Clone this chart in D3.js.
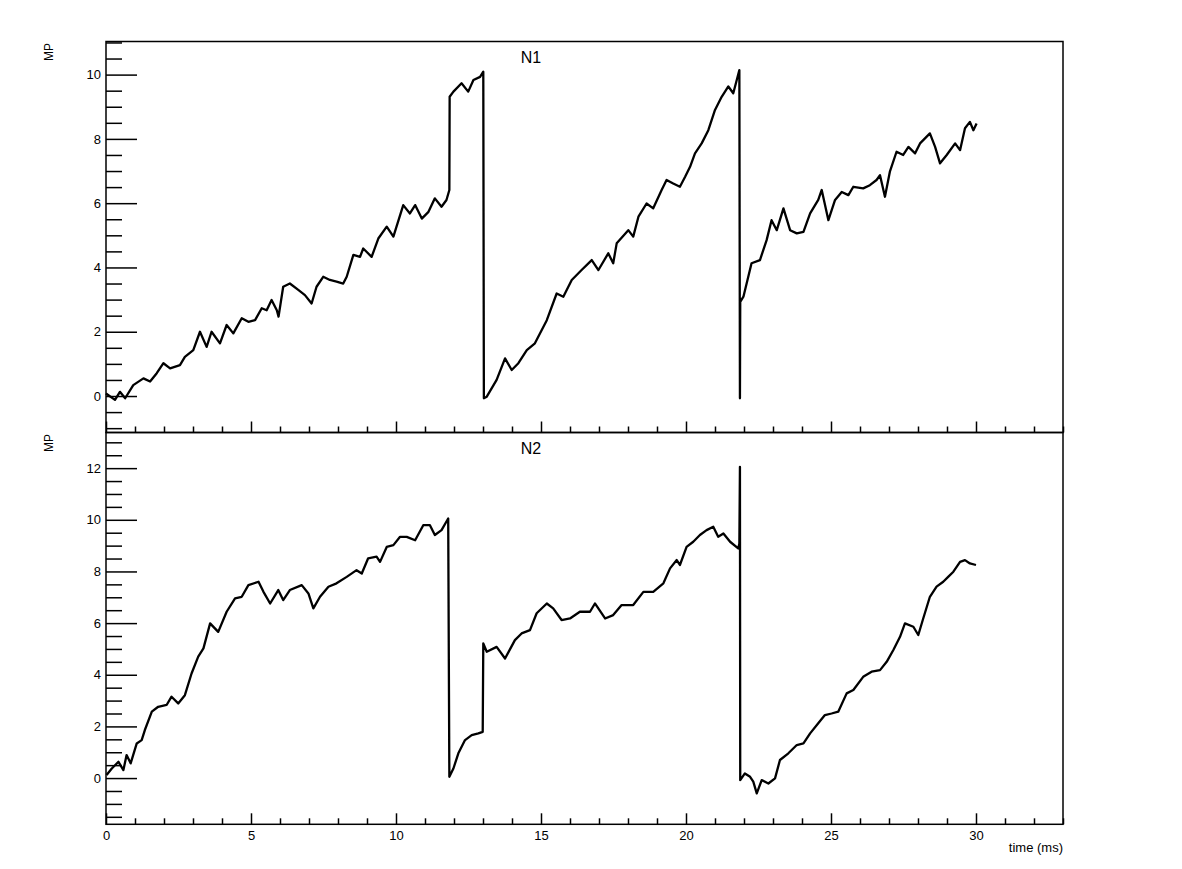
<!DOCTYPE html>
<html>
<head>
<meta charset="utf-8">
<script src="https://cdn.jsdelivr.net/npm/d3@7"></script>
<style>
  body { margin: 0; background: #fff; }
  svg text { font-family: "Liberation Sans", Arial, Helvetica, sans-serif; fill: #000; }
</style>
</head>
<body>
<div id="chart"></div>
<script>
// N1 trace, time in ms and membrane potential
const n1Time = [0, 0.31, 0.48, 0.66, 0.94, 1.29, 1.52, 1.75, 1.98, 2.21, 2.55, 2.72, 3.01, 3.24, 3.47, 3.64, 3.93,
  4.16, 4.39, 4.68, 4.91, 5.14, 5.37, 5.54, 5.71, 5.89, 5.95, 6.11, 6.34, 6.63, 6.86, 7.09, 7.26, 7.49, 7.72, 7.95,
  8.18, 8.3, 8.53, 8.76, 8.87, 9.16, 9.39, 9.68, 9.91, 10.25, 10.48, 10.66, 10.89, 11.12, 11.34, 11.57, 11.74, 11.84,
  11.85, 11.98, 12.26, 12.49, 12.67, 12.90, 13.01, 13.03, 13.13, 13.47, 13.76, 13.99, 14.22, 14.51, 14.79, 15.20,
  15.54, 15.77, 16.06, 16.40, 16.75, 16.98, 17.32, 17.49, 17.61, 18.01, 18.18, 18.36, 18.64, 18.87, 19.16, 19.33,
  19.56, 19.79, 19.97, 20.14, 20.31, 20.54, 20.77, 21.0, 21.23, 21.46, 21.63, 21.75, 21.84, 21.86, 21.87, 21.98,
  22.26, 22.55, 22.78, 22.95, 23.13, 23.36, 23.59, 23.82, 24.05, 24.28, 24.56, 24.68, 24.91, 25.14, 25.37, 25.60,
  25.77, 26.11, 26.34, 26.57, 26.69, 26.86, 27.03, 27.26, 27.49, 27.67, 27.90, 28.07, 28.41, 28.59, 28.76, 28.99,
  29.28, 29.45, 29.62, 29.79, 29.91, 30.02];
const n1Mp = [0.08, -0.12, 0.13, -0.07, 0.34, 0.55, 0.45, 0.71, 1.02, 0.86, 0.96, 1.22, 1.43, 2.0, 1.53, 2.0, 1.64,
  2.21, 1.95, 2.42, 2.31, 2.36, 2.73, 2.67, 2.99, 2.67, 2.47, 3.40, 3.50, 3.30, 3.14, 2.88, 3.40, 3.71, 3.61, 3.56,
  3.50, 3.71, 4.39, 4.33, 4.59, 4.33, 4.90, 5.27, 4.96, 5.94, 5.68, 5.94, 5.52, 5.73, 6.15, 5.89, 6.10, 6.41,
  9.31, 9.47, 9.73, 9.47, 9.83, 9.93, 10.09, -0.07, -0.02, 0.50, 1.17, 0.81, 1.02, 1.43, 1.64, 2.36,
  3.19, 3.09, 3.61, 3.92, 4.23, 3.92, 4.44, 4.13, 4.75, 5.16, 4.96, 5.58, 5.99, 5.84, 6.41, 6.72,
  6.61, 6.51, 6.82, 7.13, 7.55, 7.86, 8.27, 8.90, 9.31, 9.63, 9.42, 9.83, 10.14, -0.07, 2.93, 3.09,
  4.13, 4.23, 4.85, 5.47, 5.16, 5.84, 5.16, 5.06, 5.11, 5.68, 6.10, 6.41, 5.47, 6.10, 6.35, 6.25,
  6.51, 6.46, 6.56, 6.72, 6.87, 6.20, 6.98, 7.60, 7.50, 7.75, 7.55, 7.86, 8.17, 7.75, 7.24, 7.50,
  7.86, 7.65, 8.33, 8.53, 8.27, 8.48];

// N2 trace
const n2Time = [0.02, 0.2, 0.43, 0.6, 0.71, 0.85, 1.06, 1.23, 1.34, 1.58, 1.80, 2.09, 2.26, 2.49, 2.72, 2.95, 3.18,
  3.36, 3.59, 3.87, 4.16, 4.45, 4.68, 4.91, 5.26, 5.43, 5.66, 5.94, 6.11, 6.34, 6.75, 6.98, 7.15, 7.38, 7.67, 7.95,
  8.30, 8.64, 8.82, 9.04, 9.33, 9.45, 9.68, 9.91, 10.14, 10.37, 10.66, 10.94, 11.17, 11.34, 11.57, 11.80, 11.84,
  11.98, 12.15, 12.38, 12.61, 12.84, 12.99, 13.01, 13.13, 13.47, 13.76, 14.10, 14.33, 14.62, 14.85, 15.20, 15.42,
  15.71, 16.0, 16.34, 16.69, 16.86, 17.21, 17.49, 17.78, 18.18, 18.53, 18.87, 19.22, 19.45, 19.68, 19.79, 20.02,
  20.25, 20.48, 20.71, 20.94, 21.11, 21.29, 21.52, 21.80, 21.84, 21.86, 21.87, 22.03, 22.21, 22.32, 22.44, 22.61,
  22.84, 23.07, 23.24, 23.53, 23.82, 24.05, 24.28, 24.56, 24.79, 25.02, 25.25, 25.54, 25.77, 26.11, 26.40, 26.69,
  26.92, 27.15, 27.38, 27.55, 27.84, 28.01, 28.18, 28.41, 28.64, 28.87, 29.04, 29.22, 29.45, 29.62, 29.79, 30.0];
const n2Mp = [0.12, 0.37, 0.63, 0.31, 0.89, 0.57, 1.34, 1.47, 1.86, 2.57, 2.76, 2.83, 3.15, 2.89, 3.21, 4.05, 4.70,
  5.02, 5.99, 5.66, 6.44, 6.96, 7.02, 7.47, 7.60, 7.21, 6.76, 7.28, 6.89, 7.28, 7.47, 7.15, 6.57, 7.02, 7.41, 7.54,
  7.79, 8.05, 7.92, 8.51, 8.57, 8.37, 8.95, 9.02, 9.34, 9.34, 9.21, 9.79, 9.79, 9.41, 9.60, 10.05, 0.05,
  0.37, 0.96, 1.47, 1.66, 1.73, 1.79, 5.21, 4.89, 5.08, 4.63, 5.34, 5.60, 5.73, 6.38, 6.76, 6.57,
  6.12, 6.18, 6.44, 6.44, 6.76, 6.18, 6.31, 6.70, 6.70, 7.21, 7.21, 7.54, 8.12, 8.44, 8.25, 8.95,
  9.15, 9.41, 9.60, 9.73, 9.34, 9.47, 9.15, 8.89, 9.08, 12.05, -0.08, 0.18, 0.05, -0.14, -0.59, -0.08,
  -0.21, -0.01, 0.70, 0.96, 1.28, 1.34, 1.73, 2.12, 2.44, 2.50, 2.57, 3.28, 3.41, 3.92, 4.12, 4.18,
  4.50, 4.96, 5.47, 5.99, 5.86, 5.54, 6.18, 7.02, 7.41, 7.60, 7.79, 7.99, 8.37, 8.44, 8.31, 8.25];

const xMajorTicks = [0, 5, 10, 15, 20, 25, 30];
const panelTitles = ['N1', 'N2'];
const yLabel = 'MP';
const xLabel = 'time (ms)';

const width = 1182, height = 869;
const frameLeft = 106, frameRight = 1063;

const svg = d3.select('#chart').append('svg')
  .attr('width', width)
  .attr('height', height);

const x = d3.scaleLinear().domain([0, 33]).range([frameLeft, frameRight]);

const panels = [
  { time: n1Time, mp: n1Mp, top: 41.5, bottom: 432.5, yDomain: [-1.135, 11.03], title: panelTitles[0], labels: false },
  { time: n2Time, mp: n2Mp, top: 432.5, bottom: 824.3, yDomain: [-1.79, 13.38], title: panelTitles[1], labels: true }
];

function drawPanel(p) {
  const y = d3.scaleLinear().domain(p.yDomain).range([p.bottom, p.top]);
  const g = svg.append('g');

  // minor y ticks every 0.5, major every 2
  const yMinor = d3.range(Math.ceil(p.yDomain[0] * 2) / 2, p.yDomain[1], 0.5).filter(v => v % 2 !== 0);
  const yMajor = d3.range(Math.ceil(p.yDomain[0] / 2) * 2, p.yDomain[1], 2);

  g.append('g')
    .attr('transform', `translate(${frameLeft},0)`)
    .call(d3.axisLeft(y).tickValues(yMinor).tickSize(-16).tickFormat(''))
    .call(a => a.select('.domain').remove());
  g.append('g')
    .attr('class', 'y-major')
    .attr('transform', `translate(${frameLeft},0)`)
    .call(d3.axisLeft(y).tickValues(yMajor).tickSize(-31).tickPadding(5).tickFormat(d3.format('d')))
    .call(a => a.select('.domain').remove());

  // x ticks
  const xMinor = d3.range(0, 34, 1).filter(v => v % 5 !== 0);
  g.append('g')
    .attr('transform', `translate(0,${p.bottom})`)
    .call(d3.axisBottom(x).tickValues(xMinor).tickSize(-6).tickFormat(''))
    .call(a => a.select('.domain').remove());
  g.append('g')
    .attr('class', 'x-major')
    .attr('transform', `translate(0,${p.bottom})`)
    .call(d3.axisBottom(x).tickValues(xMajorTicks).tickSize(-11).tickPadding(6)
      .tickFormat(p.labels ? d3.format('d') : ''))
    .call(a => a.select('.domain').remove());

  g.selectAll('.tick line').attr('stroke', '#000').attr('stroke-width', 1.5);
  g.selectAll('.tick text').attr('font-size', 13).attr('fill', '#000');

  // frame
  g.append('rect')
    .attr('x', frameLeft).attr('y', p.top)
    .attr('width', frameRight - frameLeft).attr('height', p.bottom - p.top)
    .attr('fill', 'none').attr('stroke', '#000').attr('stroke-width', 1.5);

  // trace (thicker stroke stands in for the fine jitter of the original)
  const line = d3.line()
    .x((d, i) => x(p.time[i]))
    .y(d => y(d));
  g.append('path')
    .datum(p.mp)
    .attr('d', line)
    .attr('fill', 'none')
    .attr('stroke', '#000')
    .attr('stroke-width', 2.3)
    .attr('stroke-linejoin', 'round');

  // title
  g.append('text')
    .attr('x', 531).attr('y', p.top + 21)
    .attr('text-anchor', 'middle')
    .attr('font-size', 16)
    .text(p.title);

  // y label
  g.append('text')
    .attr('transform', `translate(52.5,${p.top + 1.5}) rotate(-90)`)
    .attr('text-anchor', 'end')
    .attr('font-size', 12)
    .text(yLabel);
}

panels.forEach(drawPanel);

svg.append('text')
  .attr('x', frameRight).attr('y', 852)
  .attr('text-anchor', 'end')
  .attr('font-size', 13)
  .text(xLabel);
</script>
</body>
</html>
